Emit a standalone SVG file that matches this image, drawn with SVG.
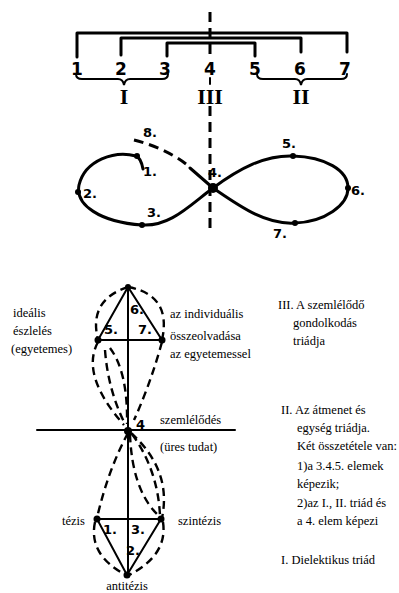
<svg xmlns="http://www.w3.org/2000/svg" width="399" height="593" viewBox="0 0 399 593">
<style>
.ln{fill:none;stroke:#000;stroke-width:3;stroke-linecap:round;stroke-linejoin:round}
.th{fill:none;stroke:#000;stroke-width:2;stroke-linecap:round}
.ds{fill:none;stroke:#000;stroke-width:2.4;stroke-dasharray:8 5}
.dv{fill:none;stroke:#000;stroke-width:3;stroke-dasharray:10 6}
.num{font-family:"DejaVu Sans","Liberation Sans",sans-serif;font-weight:bold;font-size:17px;fill:#000;text-anchor:middle}
.rom{font-family:"Liberation Serif",serif;font-weight:bold;font-size:22px;fill:#000;text-anchor:middle}
.lbl{font-family:"DejaVu Sans","Liberation Sans",sans-serif;font-weight:bold;font-size:13px;fill:#000}
.tx{font-family:"Liberation Serif",serif;font-size:12.5px;fill:#000}
.dot{fill:#000}
</style>

<g id="axis">
<line class="dv" x1="210" y1="12" x2="210" y2="58"/>
<line class="dv" x1="210" y1="106" x2="210" y2="230"/>
</g>

<g id="brackets">
<path class="ln" d="M77,57 V33 H347 V52"/>
<path class="ln" d="M121,55 V38 H301 V52"/>
<path class="ln" d="M167,56 V43 H255 V56"/>
<path class="th" d="M76,74 Q76,79 82,79 H118 Q123,79 124,85 Q125,79 130,79 H162 Q168,79 168,74"/>
<path class="th" d="M257,74 Q257,79 263,79 H295 Q300,79 301,85 Q302,79 307,79 H341 Q347,79 347,74"/>
<line class="th" x1="210" y1="78" x2="210" y2="84"/>
</g>

<g id="bracket-labels">
<text class="num" x="77" y="75">1</text>
<text class="num" x="121" y="75">2</text>
<text class="num" x="165" y="75">3</text>
<text class="num" x="210" y="75">4</text>
<text class="num" x="255" y="75">5</text>
<text class="num" x="300" y="75">6</text>
<text class="num" x="345" y="75">7</text>
<text class="rom" x="124" y="104">I</text>
<text class="rom" x="210" y="104">III</text>
<text class="rom" x="301" y="104">II</text>
</g>

<g id="infinity">
<path class="ln" d="M143,169 Q141,158 136,156 C115,150 85,160 79,185 C75,205 100,222 142,225 C170,227 190,205 213,188 C240,168 265,155 293,156 C325,157 348,170 348,188 C348,205 325,222 295,223 C265,225 238,205 213,188 L190,168"/>
<path class="dv" d="M186,164 Q165,148 134,140"/>
<circle class="dot" cx="137" cy="156" r="3"/>
<circle class="dot" cx="78" cy="192" r="3"/>
<circle class="dot" cx="142" cy="225" r="3"/>
<circle class="dot" cx="213" cy="188" r="5"/>
<circle class="dot" cx="293" cy="156" r="3"/>
<circle class="dot" cx="348" cy="188" r="3"/>
<circle class="dot" cx="295" cy="223" r="3"/>
<text class="lbl" x="143" y="176">1.</text>
<text class="lbl" x="83" y="198">2.</text>
<text class="lbl" x="147" y="217">3.</text>
<text class="lbl" x="208" y="177">4.</text>
<text class="lbl" x="282" y="148">5.</text>
<text class="lbl" x="351" y="195">6.</text>
<text class="lbl" x="273" y="238">7.</text>
<text class="lbl" x="143" y="137">8.</text>
</g>

<g id="upper-triad">
<path class="th" d="M128,287 L98,340 H162 Z"/>
<line class="th" x1="128" y1="287" x2="128" y2="575"/>
<path class="ds" d="M128,287 Q88,300 98,340"/>
<path class="ds" d="M128,287 Q172,295 162,340"/>
<path class="ds" d="M98,342 Q80,375 124,425"/>
<path class="ds" d="M105,350 Q108,390 125,424"/>
<path class="ds" d="M110,348 Q128,372 127,424"/>
<path class="ds" d="M162,342 Q150,385 134,420"/>
<circle class="dot" cx="128" cy="287" r="3"/>
<circle class="dot" cx="98" cy="340" r="3.5"/>
<circle class="dot" cx="162" cy="340" r="3.5"/>
<text class="lbl" x="104" y="334">5.</text>
<text class="lbl" x="138" y="334">7.</text>
<text class="lbl" x="130" y="314">6.</text>
</g>

<g id="center">
<line class="th" x1="37" y1="430" x2="235" y2="430"/>
<circle class="dot" cx="128" cy="431" r="4"/>
<text class="lbl" x="136" y="429" font-size="16">4</text>
</g>

<g id="lower-triad">
<path class="th" d="M97,519 H161 L127,575 Z"/>
<path class="ds" d="M128,433 Q108,470 97,518"/>
<path class="ds" d="M131,433 Q172,470 162,518"/>
<path class="ds" d="M132,434 Q158,470 160,516"/>
<path class="ds" d="M130,434 Q132,490 158,515"/>
<path class="ds" d="M95,522 Q88,555 126,575"/>
<path class="ds" d="M163,522 Q168,555 129,575"/>
<circle class="dot" cx="97" cy="519" r="3.5"/>
<circle class="dot" cx="161" cy="519" r="3.5"/>
<circle class="dot" cx="127" cy="575" r="3.5"/>
<text class="lbl" x="103" y="534">1.</text>
<text class="lbl" x="131" y="534">3.</text>
<text class="lbl" x="126" y="555">2.</text>
</g>

<g id="labels">
<text class="tx" x="13" y="317">ideális</text>
<text class="tx" x="13" y="335">észlelés</text>
<text class="tx" x="11" y="353">(egyetemes)</text>
<text class="tx" x="170" y="318">az individuális</text>
<text class="tx" x="170" y="340">összeolvadása</text>
<text class="tx" x="170" y="358">az egyetemessel</text>
<text class="tx" x="160" y="424">szemlélődés</text>
<text class="tx" x="160" y="451">(üres tudat)</text>
<text class="tx" x="62" y="525">tézis</text>
<text class="tx" x="178" y="525">szintézis</text>
<text class="tx" x="127" y="590" text-anchor="middle">antitézis</text>
</g>

<g id="legend">
<text class="tx" x="278" y="309">III. A szemlélődő</text>
<text class="tx" x="293" y="327">gondolkodás</text>
<text class="tx" x="293" y="345">triádja</text>
<text class="tx" x="281" y="414">II.  Az átmenet és</text>
<text class="tx" x="297" y="432">egység triádja.</text>
<text class="tx" x="297" y="450">Két összetétele van:</text>
<text class="tx" x="297" y="470">1)a 3.4.5. elemek</text>
<text class="tx" x="297" y="488">képezik;</text>
<text class="tx" x="297" y="507">2)az I., II. triád  és</text>
<text class="tx" x="297" y="525">a 4. elem képezi</text>
<text class="tx" x="281" y="564">I.  Dielektikus triád</text>
</g>
</svg>
